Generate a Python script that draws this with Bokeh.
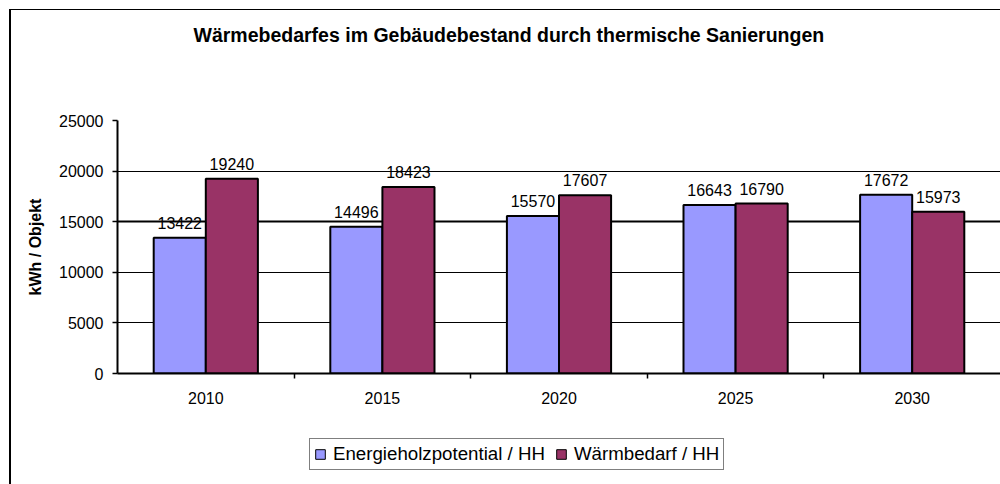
from bokeh.plotting import figure
from bokeh.layouts import column
from bokeh.models import (FactorRange, Range1d, LinearAxis, CategoricalAxis, FixedTicker,
                          Legend, LegendItem, ColumnDataSource, LabelSet, Grid)
from bokeh.core.properties import value
from bokeh.transform import dodge
from bokeh.embed import file_html
from bokeh.resources import INLINE

# ---- data ----
years = ["2010", "2015", "2020", "2025", "2030"]
energieholz = [13422, 14496, 15570, 16643, 17672]
waermebedarf = [19240, 18423, 17607, 16790, 15973]
series_names = ["Energieholzpotential / HH", "Wärmbedarf / HH"]
y_ticks = [0, 5000, 10000, 15000, 20000, 25000]
title_text = "Wärmebedarfes im Gebäudebestand durch thermische Sanierungen"
y_label = "kWh / Objekt"

FONT = "Liberation Sans"
BLUE = "#9999FF"
MAROON = "#993366"
BAR_W = 0.295
W = 1000
H_TITLE, H_MAIN, H_LEG = 72, 341, 71

common = dict(output_backend="svg", toolbar_location=None, x_axis_location=None,
              y_axis_location=None, min_border_left=0, min_border_right=0,
              min_border_top=0, min_border_bottom=0)

src = ColumnDataSource(dict(
    year=years, e=energieholz, w=waermebedarf,
    e_txt=[str(v) for v in energieholz], w_txt=[str(v) for v in waermebedarf],
))

# ---- title strip ----
pt = figure(width=W, height=H_TITLE, **common)
pt.border_fill_color = None
pt.background_fill_color = None
pt.outline_line_color = None
pt.grid.visible = False
pt.title.text = title_text
pt.title.align = "left"
pt.title.offset = 76
pt.title.standoff = 42
pt.title.vertical_align = "bottom"
pt.title.text_font = FONT
pt.title.text_font_size = "19.5px"
pt.title.text_font_style = "bold"
pt.title.text_color = "black"

# ---- main chart ----
p = figure(width=W, height=H_MAIN, x_range=FactorRange(*years),
           y_range=Range1d(y_ticks[0], y_ticks[-1]),
           output_backend="svg", toolbar_location=None, x_axis_location=None,
           min_border_left=117, min_border_right=0, min_border_top=48, min_border_bottom=40)
p.border_fill_color = None
p.background_fill_color = "white"
p.outline_line_color = None

yax = p.yaxis[0]
yax.ticker = FixedTicker(ticks=y_ticks)
yax.axis_line_width = 2
yax.axis_line_color = "black"
yax.major_tick_out = 5
yax.major_tick_in = 0
yax.major_tick_line_width = 1.5
yax.major_tick_line_color = "black"
yax.minor_tick_line_color = None
yax.major_label_text_font = FONT
yax.major_label_text_font_size = "16px"
yax.major_label_text_color = "black"
yax.major_label_standoff = 9
yax.axis_label = y_label
yax.axis_label_text_font = FONT
yax.axis_label_text_font_size = "16px"
yax.axis_label_text_font_style = "bold"
yax.axis_label_text_color = "black"
yax.axis_label_standoff = 12

p.xgrid.visible = False
p.ygrid.ticker = FixedTicker(ticks=y_ticks[1:-1])
p.ygrid.grid_line_color = "black"
p.ygrid.grid_line_width = 1
p.add_layout(Grid(dimension=1, ticker=FixedTicker(ticks=[y_ticks[3]]),
                  grid_line_color="black", grid_line_width=2))
p.add_layout(Grid(dimension=1, ticker=FixedTicker(ticks=[y_ticks[-1]]),
                  grid_line_color="#808080", grid_line_width=2))

tick_axis = LinearAxis(ticker=FixedTicker(ticks=list(range(1, len(years)))),
                       axis_line_width=2, axis_line_color="black",
                       major_tick_out=5, major_tick_in=0, major_tick_line_width=1.5,
                       major_tick_line_color="black", minor_tick_line_color=None,
                       major_label_text_font_size="2px", major_label_text_color=None,
                       major_label_standoff=0)
p.add_layout(tick_axis, "below")
label_axis = CategoricalAxis(axis_line_color=None, major_tick_line_color=None,
                             minor_tick_line_color=None,
                             major_label_text_font=FONT, major_label_text_font_size="16px",
                             major_label_text_color="black", major_label_standoff=7)
p.add_layout(label_axis, "below")

p.vbar(x=dodge("year", -BAR_W / 2, range=p.x_range), top="e", width=BAR_W, source=src,
       fill_color=BLUE, line_color="black", line_width=2)
p.vbar(x=dodge("year", BAR_W / 2, range=p.x_range), top="w", width=BAR_W, source=src,
       fill_color=MAROON, line_color="black", line_width=2)

for col, txt, off in (("e", "e_txt", -BAR_W / 2), ("w", "w_txt", BAR_W / 2)):
    p.add_layout(LabelSet(x=dodge("year", off, range=p.x_range), y=col, text=txt, source=src,
                          text_align="center", text_baseline="bottom", y_offset=9,
                          text_font=value(FONT), text_font_size=value("16px"), text_color="black"))

# ---- legend strip (hidden proxy renderers only feed the legend swatches) ----
pl = figure(width=W, height=H_LEG, x_range=p.x_range, y_range=p.y_range, **common)
pl.border_fill_color = None
pl.background_fill_color = None
pl.outline_line_color = None
pl.grid.visible = False
l1 = pl.vbar(x=dodge("year", -BAR_W / 2, range=p.x_range), top="e", width=BAR_W, source=src,
             fill_color=BLUE, line_color="black", line_width=1, visible=False)
l2 = pl.vbar(x=dodge("year", BAR_W / 2, range=p.x_range), top="w", width=BAR_W, source=src,
             fill_color=MAROON, line_color="black", line_width=1, visible=False)
legend = Legend(items=[LegendItem(label=series_names[0], renderers=[l1]),
                       LegendItem(label=series_names[1], renderers=[l2])],
                orientation="horizontal", location=(192, 14),
                border_line_color="black", border_line_width=1,
                background_fill_color="white", background_fill_alpha=1,
                label_text_font=FONT, label_text_font_size="18.7px", label_text_color="black",
                glyph_width=12, glyph_height=12, label_standoff=7, spacing=10,
                padding=4, margin=0)
pl.add_layout(legend)

lay = column(pt, p, pl, spacing=0)
lay.styles = {"box-shadow": "inset 9px 9px 0 0 white, inset 11px 10px 0 0 black"}

open("out.html", "w").write(file_html(lay, INLINE))
